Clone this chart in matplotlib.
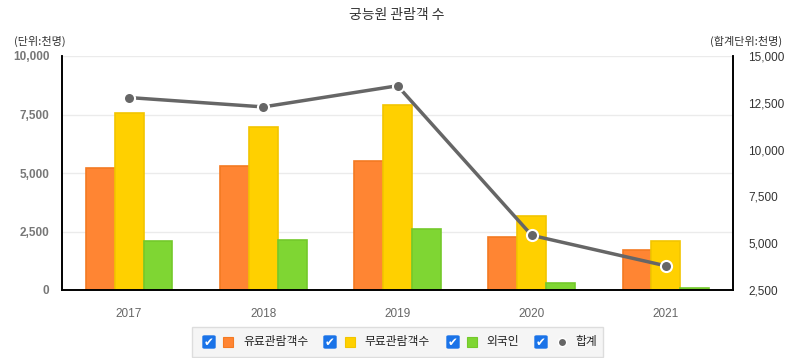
"""궁능원 관람객 수: grouped bars with a total line on a secondary axis."""

import matplotlib
matplotlib.use("Agg")
import matplotlib.pyplot as plt
from matplotlib.patches import FancyBboxPatch, Rectangle
from matplotlib.ticker import FuncFormatter
import numpy as np

plt.rcParams["font.family"] = ["Noto Sans CJK KR", "DejaVu Sans"]

years = ["2017", "2018", "2019", "2020", "2021"]
paid = [5200, 5300, 5510, 2260, 1710]
free = [7560, 6970, 7900, 3160, 2090]
foreign = [2090, 2140, 2610, 300, 90]
total = [12780, 12280, 13410, 5420, 3790]

series_names = ["유료관람객수", "무료관람객수", "외국인", "합계"]
fills = ["#ff8533", "#ffd000", "#7fd633"]
edges = ["#f47a22", "#f2c500", "#74c92b"]
line_color = "#666666"
num_font = ["Liberation Sans", "DejaVu Sans"]

W, H = 793, 358
fig = plt.figure(figsize=(W / 100, H / 100), dpi=100)
ax = fig.add_axes([62 / W, 1 - 290 / H, (733 - 62) / W, (290 - 56) / H])
ax2 = ax.twinx()

x = np.arange(len(years))
bw = 0.215
for i, (vals, fc, ec) in enumerate(zip([paid, free, foreign], fills, edges)):
    ax.bar(x + (i - 1) * bw, vals, bw, color=fc, edgecolor=ec, linewidth=1.2, zorder=2)

ax.set_xlim(-0.5, len(years) - 0.5)
ax.set_ylim(0, 10000)
ax.set_yticks([0, 2500, 5000, 7500, 10000])
ax.yaxis.set_major_formatter(FuncFormatter(lambda v, _: f"{int(v):,}"))
ax.grid(axis="y", color="#ebebeb", linewidth=1, zorder=0)
ax.set_axisbelow(True)
ax.set_xticks(x)
ax.set_xticklabels(years)
ax.tick_params(axis="x", length=0, pad=13, labelsize=8.5, labelcolor="#666666")
ax.tick_params(axis="y", length=0, pad=9, labelsize=8.5, labelcolor="#777777")
for lbl in ax.get_xticklabels():
    lbl.set_family(num_font)
for lbl in ax.get_yticklabels():
    lbl.set_family(num_font)
    lbl.set_fontweight("bold")

ax2.plot(x, total, color=line_color, linewidth=2.5, marker="o", markersize=8,
         markerfacecolor=line_color, markeredgecolor="white", markeredgewidth=1.5,
         zorder=5)
ax2.set_ylim(2500, 15000)
ax2.set_yticks([2500, 5000, 7500, 10000, 12500, 15000])
ax2.yaxis.set_major_formatter(FuncFormatter(lambda v, _: f"{int(v):,}"))
ax2.tick_params(axis="y", length=0, pad=11, labelsize=8.5, labelcolor="#333333")
for lbl in ax2.get_yticklabels():
    lbl.set_family(num_font)

for a in (ax, ax2):
    a.spines["top"].set_visible(False)
    for s in ("left", "right", "bottom"):
        a.spines[s].set_color("black")
        a.spines[s].set_linewidth(1.2)

fig.text(397 / W, 1 - 15 / H, "궁능원 관람객 수", ha="center", va="center",
         fontsize=10, color="#333333")
fig.text(14 / W, 1 - 41 / H, "(단위:천명)", ha="left", va="center",
         fontsize=8, color="#333333")
fig.text(782 / W, 1 - 41 / H, "(합계단위:천명)", ha="right", va="center",
         fontsize=8, color="#333333")


# legend drawn by hand: checkbox, swatch, label
def px(xp, yp):
    return xp / W, 1 - yp / H


tf = fig.transFigure
fig.patches.append(Rectangle(px(192, 357), 411 / W, 30 / H, transform=tf,
                             facecolor="#f5f5f5", edgecolor="#dddddd", linewidth=1))
cy = 342
items = [(203, 223, 243), (324, 345, 364), (447, 467, 486), (535, 557, 575)]
for k, (cbx, swx, txx) in enumerate(items):
    fig.patches.append(FancyBboxPatch(px(cbx, cy + 6), 12 / W, 12 / H, transform=tf,
                                      boxstyle="round,pad=0,rounding_size=0.002",
                                      facecolor="#1a73e8", edgecolor="#1a73e8"))
    fig.text(*px(cbx + 6, cy + 0.5), "✔", ha="center", va="center", fontsize=8.5,
             color="white", family=["DejaVu Sans"])
    if k < 3:
        fig.patches.append(Rectangle(px(swx, cy + 5), 10 / W, 10 / H, transform=tf,
                                     facecolor=fills[k], edgecolor=edges[k], linewidth=0.8))
    else:
        fig.lines.append(plt.Line2D([px(swx + 5, cy)[0]], [px(swx + 5, cy)[1]],
                                    transform=tf, marker="o", markersize=6,
                                    color=line_color, markeredgecolor="white"))
    fig.text(*px(txx, cy), series_names[k], ha="left", va="center",
             fontsize=8.5, color="#222222")

fig.savefig("out.png", dpi=100)
